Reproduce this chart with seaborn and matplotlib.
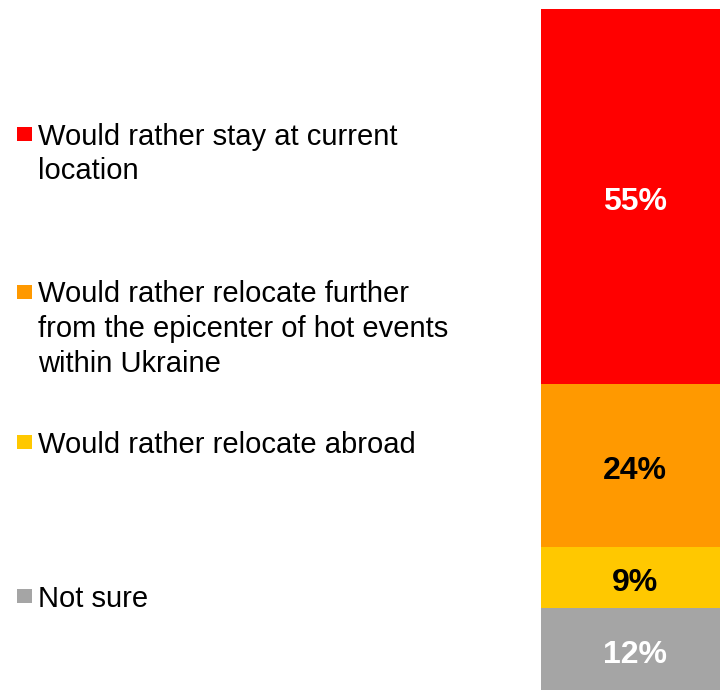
import matplotlib
matplotlib.use("Agg")
import matplotlib.pyplot as plt
from matplotlib.patches import Rectangle
import seaborn as sns
import pandas as pd
import numpy as np

sns.set_theme(style="white")
plt.rcParams["font.family"] = ["Liberation Sans", "DejaVu Sans"]

categories = [
    "Would rather stay at current\nlocation",
    "Would rather relocate further\nfrom the epicenter of hot events\nwithin Ukraine",
    "Would rather relocate abroad",
    "Not sure",
]
shares = [55, 24, 9, 12]
colors = ["#FF0000", "#FF9900", "#FFC800", "#A5A5A5"]
label_colors = ["white", "black", "black", "white"]

W, H = 720, 690
fig = plt.figure(figsize=(W / 100, H / 100), dpi=100)

# single stacked column, drawn as overlapping cumulative bars (top segment first)
ax = fig.add_axes([541 / W, 0, 188 / W, 681 / H])
tops = np.cumsum(shares[::-1])[::-1]  # cumulative height of each segment from the bottom
for top, col in zip(tops, colors):
    df = pd.DataFrame({"grp": ["all"], "value": [top]})
    sns.barplot(data=df, x="grp", y="value", color=col, saturation=1,
                width=1.0, ax=ax, edgecolor="none", linewidth=0)
ax.set_xlim(-0.5, 0.5)
ax.set_ylim(0, 100)
ax.axis("off")

# percentage labels centred (by cap height) in each segment
pct_size = 23
for top, share, tc in zip(tops, shares, label_colors):
    ax.annotate(f"{share}%", xy=(0, top - share / 2), xytext=(0, -9.8),
                textcoords="offset points", ha="center", va="baseline",
                fontsize=pct_size, fontweight="bold", color=tc)

# legend on the left: first-line baselines in pixels from the top
legend_baselines = [145, 303, 453, 607]
line_step = 34.3
for cat, col, base in zip(categories, colors, legend_baselines):
    fig.patches.append(Rectangle((17 / W, 1 - (base - 4) / H), 15 / W, 14 / H,
                                 transform=fig.transFigure, facecolor=col,
                                 edgecolor="none"))
    # multi-line text aligned on the baseline of its last line
    last_base = base + line_step * cat.count("\n")
    fig.text(38 / W, 1 - last_base / H, cat, ha="left", va="baseline",
             fontsize=21, color="black", linespacing=1.30)

fig.savefig("out.png", dpi=100)
